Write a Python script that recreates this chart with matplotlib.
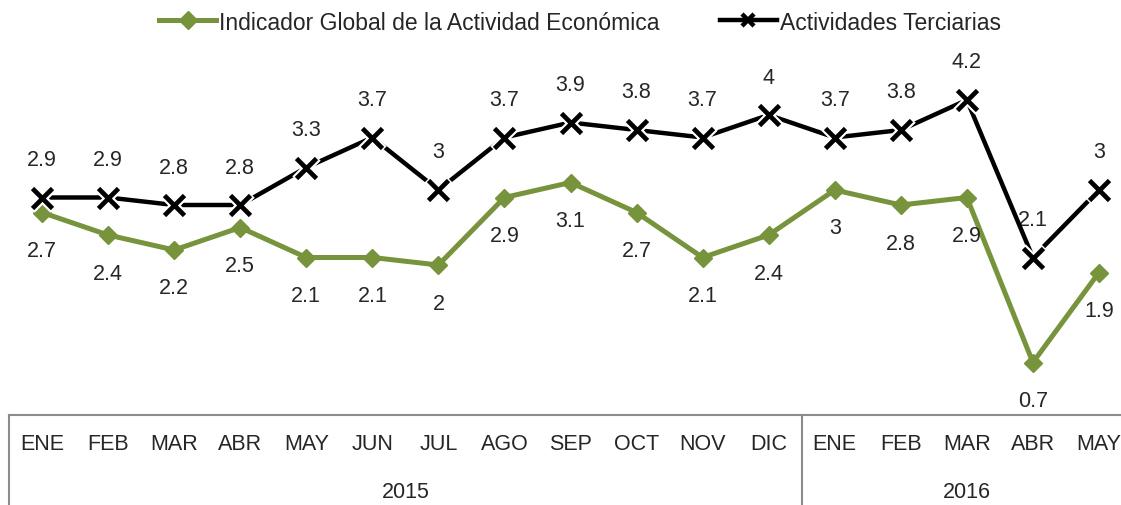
import numpy as np
import matplotlib
matplotlib.use('Agg')
import matplotlib.pyplot as plt
from matplotlib.transforms import blended_transform_factory

plt.rcParams['font.family'] = ['Liberation Sans', 'DejaVu Sans']

# datos
meses = ['ENE', 'FEB', 'MAR', 'ABR', 'MAY', 'JUN', 'JUL', 'AGO', 'SEP', 'OCT', 'NOV', 'DIC',
         'ENE', 'FEB', 'MAR', 'ABR', 'MAY']
anios = ['2015', '2016']
meses_por_anio = [12, 5]
igae = [2.7, 2.4, 2.2, 2.5, 2.1, 2.1, 2.0, 2.9, 3.1, 2.7, 2.1, 2.4, 3.0, 2.8, 2.9, 0.7, 1.9]
terciarias = [2.9, 2.9, 2.8, 2.8, 3.3, 3.7, 3.0, 3.7, 3.9, 3.8, 3.7, 4.0, 3.7, 3.8, 4.2, 2.1, 3.0]
etiq_igae = ['2.7', '2.4', '2.2', '2.5', '2.1', '2.1', '2', '2.9', '3.1', '2.7', '2.1', '2.4',
             '3', '2.8', '2.9', '0.7', '1.9']
etiq_terc = ['2.9', '2.9', '2.8', '2.8', '3.3', '3.7', '3', '3.7', '3.9', '3.8', '3.7', '4',
             '3.7', '3.8', '4.2', '2.1', '3']

verde = '#77933C'
texto = '#262626'
gris = '#8C8C8C'
fs = 15.5

fig = plt.figure(figsize=(11.21, 5.06), dpi=100)
ax = fig.add_axes([9/1121, 90/506, 1123/1121, 360/506])

x = np.arange(len(meses))

# serie verde
l1, = ax.plot(x, igae, color=verde, lw=3.6, marker='D', ms=9, mec=verde, mfc=verde,
              label='Indicador Global de la Actividad Económica', zorder=3)

# serie negra, marcador con borde blanco para el hueco
ax.plot(x, terciarias, color='black', lw=3.2, zorder=4)
ax.plot(x, terciarias, ls='none', marker='x', ms=15.5, mew=6.5, color='white', zorder=5)
ax.plot(x, terciarias, ls='none', marker='x', ms=14.5, mew=3.4, color='black', zorder=6)
l2, = ax.plot([], [], color='black', lw=3.2, marker='x', ms=9, mew=3.2,
              label='Actividades Terciarias')

# etiquetas de datos
for xi, v, t in zip(x, igae, etiq_igae):
    ax.annotate(t, (xi, v), xytext=(0, -38), textcoords='offset pixels',
                ha='center', va='center', fontsize=fs, color=texto)
for xi, v, t in zip(x, terciarias, etiq_terc):
    ax.annotate(t, (xi, v), xytext=(0, 38), textcoords='offset pixels',
                ha='center', va='center', fontsize=fs, color=texto)

ax.set_xlim(-0.5, 16.5)
ax.set_ylim(0, 4.8)
for s in ['top', 'right', 'left']:
    ax.spines[s].set_visible(False)
ax.spines['bottom'].set_color(gris)
ax.spines['bottom'].set_linewidth(1.5)
ax.set_yticks([])
ax.set_xticks([])

# eje de categorias en dos niveles
trans = blended_transform_factory(ax.transData, ax.transAxes)
for xi, m in zip(x, meses):
    ax.annotate(m, (xi, 0), xycoords=trans, xytext=(0, -29), textcoords='offset pixels',
                ha='center', va='center', fontsize=fs, color=texto)

inicio = 0
for a, n in zip(anios, meses_por_anio):
    centro = inicio + (n - 1) / 2
    ax.annotate(a, (centro, 0), xycoords=trans, xytext=(0, -77), textcoords='offset pixels',
                ha='center', va='center', fontsize=fs, color=texto)
    ax.plot([inicio - 0.5, inicio - 0.5], [0, -0.4], transform=trans, color=gris,
            lw=1.5, clip_on=False)
    inicio += n
ax.plot([inicio - 0.5, inicio - 0.5], [0, -0.4], transform=trans, color=gris,
        lw=1.5, clip_on=False)

fig.legend(handles=[l1, l2], loc='center', bbox_to_anchor=(580/1121, 1 - 23/506),
           ncol=2, frameon=False, fontsize=16.5, handlelength=2.5, handletextpad=0.13,
           columnspacing=2.6, numpoints=1, labelcolor=texto)

fig.savefig('out.png', dpi=100)
